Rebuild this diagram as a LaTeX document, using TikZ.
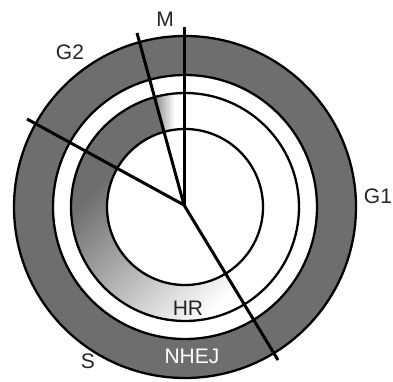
\documentclass[tikz,border=0pt]{standalone}
\usepackage{fontspec}
\setmainfont{Liberation Sans}
\definecolor{ringgray}{RGB}{110,110,110}
\begin{document}
\begin{tikzpicture}[x=1pt,y=1pt,
  ringline/.style={line width=2.3pt, black},
  radline/.style={line width=3pt, black},
  lbl/.style={font=\fontsize{21}{25}\selectfont, inner sep=0pt, text=black!85}]
\useasboundingbox (0,0) rectangle (393,381);
\fill[white] (0,0) rectangle (393,381);
\coordinate (C) at (185,174);
\coordinate (P) at (184,176);
\def\Ra{171}\def\Rb{132}\def\Rc{114}\def\Rd{78}
% outer dark ring
\fill[ringgray] (C) circle[radius=\Ra];
\fill[white] (C) circle[radius=\Rb];
% HR ring pieces
\begin{scope}[shift={(C)}]
  % uniform dark part
  \fill[ringgray] (105.3:\Rc) arc[start angle=105.3,end angle=151.3,radius=\Rc]
     -- (151.3:\Rd) arc[start angle=151.3,end angle=105.3,radius=\Rd] -- cycle;
  % small gradient between M lines
  \begin{scope}
    \clip (90:\Rc) arc[start angle=90,end angle=105.3,radius=\Rc]
     -- (105.3:\Rd) arc[start angle=105.3,end angle=90,radius=\Rd] -- cycle;
    \foreach \i in {0,...,13} {
      \pgfmathsetmacro{\pp}{max(0,85-\i*8)}
      \fill[ringgray!\pp!white] (-32+\i*2,60) rectangle (-29.5+\i*2,120);
    }
  \end{scope}
  % big gradient part
  \begin{scope}
    \clip (151.3:\Rc) arc[start angle=151.3,end angle=301.2,radius=\Rc]
     -- (301.2:\Rd) arc[start angle=301.2,end angle=151.3,radius=\Rd] -- cycle;
    \begin{scope}[rotate=45]
      \fill[ringgray] (-140,74) rectangle (140,140);
      \foreach \i in {0,...,84} {
        \pgfmathsetmacro{\pp}{\i*100/85}
        \fill[ringgray!\pp!white] (-140,-95+\i*2) rectangle (140,-92.5+\i*2);
      }
    \end{scope}
  \end{scope}
\end{scope}
% circles
\draw[ringline] (C) circle[radius=\Ra];
\draw[ringline] (C) circle[radius=\Rb];
\draw[ringline] (C) circle[radius=\Rc];
\draw[ringline] (C) circle[radius=\Rd];
% radial lines
\coordinate (eM) at (184,354);
\coordinate (eG) at (137,348);
\coordinate (eUL) at (27,262);
\coordinate (eLR) at (278,21);
\draw[radline] (P) -- (eM);
\draw[radline] (P) -- (eG);
\draw[radline] (P) -- (eUL);
\draw[radline] (P) -- (eLR);
% labels
\node[lbl] (G2) at (70,329) {G2};
\node[lbl] (M) at (165,362) {M};
\node[lbl] (G1) at (378,185) {G1};
\node[lbl] (S) at (88,20) {S};
\node[lbl, text=white] (NHEJ) at (192,25) {NHEJ};
\node[lbl] (HR) at (188,73) {HR};
\end{tikzpicture}
\end{document}
